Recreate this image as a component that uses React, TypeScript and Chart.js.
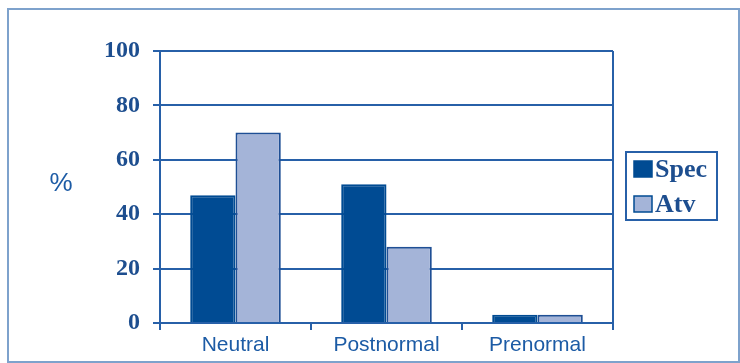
import React, { useEffect, useRef } from "react";
import { Chart, registerables } from "chart.js";

Chart.register(...registerables);

const categories = ["Neutral", "Postnormal", "Prenormal"];
const specValues = [47, 51, 3];
const atvValues = [70, 28, 3];
const seriesNames = ["Spec", "Atv"];
const yAxisTitle = "%";
const yTicks = [0, 20, 40, 60, 80, 100];

const DARK = "#004b93";
const LIGHT = "#a4b4d8";
const LINE = "#2760a8";
const TEXT_BLUE = "#1c5ba5";
const TICK_BLUE = "#1d4e8f";

const overlayPlugin = {
  id: "overlay",
  afterDraw(chart: any) {
    const { ctx, chartArea } = chart;
    ctx.save();
    // right border of plot
    ctx.strokeStyle = LINE;
    ctx.lineWidth = 2;
    ctx.beginPath();
    ctx.moveTo(chartArea.right, chartArea.top);
    ctx.lineTo(chartArea.right, chartArea.bottom + 7);
    ctx.stroke();

    // y axis title
    ctx.fillStyle = TEXT_BLUE;
    ctx.font = "26px 'Liberation Sans', Arial, sans-serif";
    ctx.textAlign = "center";
    ctx.textBaseline = "middle";
    ctx.fillText(yAxisTitle, 61, 184);

    // legend
    const bx = chartArea.right + 13;
    const by = 152;
    const bw = 91;
    const bh = 68;
    ctx.lineWidth = 2;
    ctx.strokeStyle = LINE;
    ctx.strokeRect(bx, by, bw, bh);
    const ds = chart.data.datasets;
    const rows = [177, 212];
    ctx.font = "bold 26px 'Liberation Serif', 'Times New Roman', serif";
    ctx.textAlign = "left";
    ctx.textBaseline = "alphabetic";
    ds.forEach((d: any, i: number) => {
      const base = rows[i];
      ctx.fillStyle = d.backgroundColor;
      ctx.fillRect(bx + 8, base - 16, 18, 16);
      ctx.strokeStyle = DARK;
      ctx.lineWidth = 1.5;
      ctx.strokeRect(bx + 8, base - 16, 18, 16);
      ctx.fillStyle = TICK_BLUE;
      ctx.fillText(d.label, bx + 29, base);
    });
    ctx.restore();
  },
};

export default function App() {
  const ref = useRef<HTMLCanvasElement | null>(null);
  useEffect(() => {
    if (!ref.current) return;
    const chart = new Chart(ref.current, {
      type: "bar",
      data: {
        labels: categories,
        datasets: [
          {
            label: seriesNames[0],
            data: specValues,
            backgroundColor: DARK,
            borderColor: DARK,
            borderWidth: 2,
            barPercentage: 1.0,
            categoryPercentage: 0.6,
          },
          {
            label: seriesNames[1],
            data: atvValues,
            backgroundColor: LIGHT,
            borderColor: "#1f4f95",
            borderWidth: 2,
            barPercentage: 1.0,
            categoryPercentage: 0.6,
          },
        ],
      },
      options: {
        responsive: false,
        animation: false,
        layout: { padding: { left: 0, right: 127, top: 51, bottom: 0 } },
        plugins: { legend: { display: false }, tooltip: { enabled: false } },
        scales: {
          x: {
            afterFit: (s: any) => {
              s.height = 40;
            },
            grid: {
              offset: true,
              drawOnChartArea: false,
              drawTicks: true,
              tickLength: 7,
              color: LINE,
              lineWidth: 2,
            },
            border: { display: true, color: LINE, width: 2 },
            ticks: {
              color: TEXT_BLUE,
              font: { family: "'Liberation Sans', Arial, sans-serif", size: 21 },
              padding: 3,
            },
          },
          y: {
            min: 0,
            max: 100,
            afterFit: (s: any) => {
              s.width = 160;
            },
            afterBuildTicks: (s: any) => {
              s.ticks = yTicks.map((v) => ({ value: v }));
            },
            grid: {
              color: LINE,
              lineWidth: 2,
              tickLength: 7,
            },
            border: { display: true, color: LINE, width: 2 },
            ticks: {
              color: TICK_BLUE,
              font: { family: "'Liberation Serif', 'Times New Roman', serif", size: 24, weight: "bold" },
              padding: 13,
            },
          },
        },
      },
      plugins: [overlayPlugin],
    });
    return () => chart.destroy();
  }, []);
  return (
    <div style={{ position: "absolute", left: 0, top: 0, width: 740, height: 363, background: "#fff" }}>
      <div
        style={{
          position: "absolute",
          left: 7,
          top: 8,
          width: 733,
          height: 355,
          border: "2px solid #7ea2cc",
          boxSizing: "border-box",
        }}
      />
      <canvas ref={ref} width={740} height={363} style={{ position: "absolute", left: 0, top: 0 }} />
    </div>
  );
}
